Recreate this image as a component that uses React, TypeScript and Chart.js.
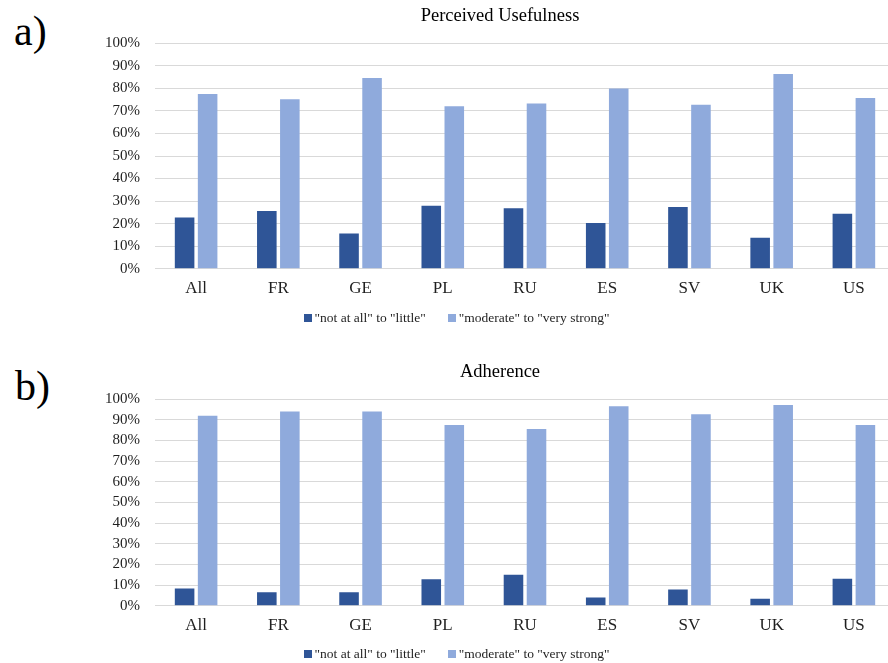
import React, { useEffect, useRef } from 'react';
import { Chart, registerables } from 'chart.js';

Chart.register(...registerables);

// ---- data ----
const categories = ['All', 'FR', 'GE', 'PL', 'RU', 'ES', 'SV', 'UK', 'US'];
const seriesLabels = ['"not at all" to "little"', '"moderate" to "very strong"'];
const usefulnessLow = [22.7, 25.6, 15.6, 28.0, 26.8, 20.3, 27.4, 13.8, 24.4];
const usefulnessHigh = [77.5, 75.1, 84.6, 72.1, 73.3, 79.9, 72.7, 86.4, 75.7];
const adherenceLow = [8.4, 6.5, 6.5, 12.9, 15.0, 4.0, 7.9, 3.4, 13.1];
const adherenceHigh = [92.0, 94.0, 94.0, 87.5, 85.6, 96.6, 92.7, 97.2, 87.5];
const chartTitles = ['Perceived Usefulness', 'Adherence'];
const panelLetters = ['a)', 'b)'];
const yMin = 0;
const yMax = 100;
const yStep = 10;

// ---- style ----
const FONT = '"Liberation Serif", "Times New Roman", serif';
const DARK = '#2F5597';
const LIGHT = '#8FAADC';
const GRID = '#D9D9D9';
const TEXT = '#1f1f1f';
const CANVAS_LEFT = 105;
const CANVAS_W = 794;
const Y_AXIS_W = 50;

function makeLegendPlugin(centerX: number, offsetY: number) {
  return {
    id: 'customLegend',
    afterDraw(chart: any) {
      const { ctx, chartArea } = chart;
      ctx.save();
      ctx.font = `13.5px ${FONT}`;
      ctx.textBaseline = 'middle';
      ctx.textAlign = 'left';
      const items = chart.data.datasets.map((ds: any) => ({
        text: ds.label as string,
        color: ds.backgroundColor as string,
        w: ctx.measureText(ds.label).width,
      }));
      const box = 8;
      const gapText = 3;
      const gapItem = 22;
      const total =
        items.reduce((s: number, it: any) => s + box + gapText + it.w, 0) +
        gapItem * (items.length - 1);
      let x = centerX - total / 2;
      const y = chartArea.bottom + offsetY;
      items.forEach((it: any) => {
        ctx.fillStyle = it.color;
        ctx.fillRect(Math.round(x), Math.round(y - box / 2), box, box);
        x += box + gapText;
        ctx.fillStyle = TEXT;
        ctx.fillText(it.text, x, y + 0.5);
        x += it.w + gapItem;
      });
      ctx.restore();
    },
  };
}

type PanelProps = {
  top: number;
  height: number;
  title: string;
  low: number[];
  high: number[];
  padBottom: number;
  legendOffset: number;
};

function BarPanel({ top, height, title, low, high, padBottom, legendOffset }: PanelProps) {
  const ref = useRef<HTMLCanvasElement | null>(null);
  useEffect(() => {
    if (!ref.current) return;
    const chart = new Chart(ref.current, {
      type: 'bar',
      data: {
        labels: categories,
        datasets: [
          {
            label: seriesLabels[0],
            data: low,
            backgroundColor: DARK,
            categoryPercentage: 0.56,
            barPercentage: 0.85,
          },
          {
            label: seriesLabels[1],
            data: high,
            backgroundColor: LIGHT,
            categoryPercentage: 0.56,
            barPercentage: 0.85,
          },
        ],
      },
      options: {
        responsive: false,
        maintainAspectRatio: false,
        animation: false,
        layout: { padding: { left: 0, right: 4, top: 0, bottom: padBottom } },
        plugins: {
          legend: { display: false },
          tooltip: { enabled: false },
          title: {
            display: true,
            text: title,
            color: '#000',
            font: { family: FONT, size: 18.5, weight: 'normal' },
            padding: { top: 5, bottom: 16 },
          },
        },
        scales: {
          x: {
            grid: { display: false, drawTicks: false },
            border: { display: false },
            ticks: {
              color: TEXT,
              font: { family: FONT, size: 17 },
              padding: 10,
              maxRotation: 0,
              autoSkip: false,
            },
          },
          y: {
            min: yMin,
            max: yMax,
            grid: { color: GRID, lineWidth: 1, drawTicks: false },
            border: { display: false },
            afterFit: (scale: any) => {
              scale.width = Y_AXIS_W;
            },
            ticks: {
              stepSize: yStep,
              autoSkip: false,
              padding: 15,
              color: TEXT,
              font: { family: FONT, size: 15 },
              callback: (v: any) => `${v}%`,
            },
          },
        },
      } as any,
      plugins: [makeLegendPlugin(351.5, legendOffset)],
    });
    return () => chart.destroy();
  }, []);
  return (
    <canvas
      ref={ref}
      width={CANVAS_W}
      height={height}
      style={{ position: 'absolute', left: CANVAS_LEFT, top, width: CANVAS_W, height }}
    />
  );
}

const letterStyle: React.CSSProperties = {
  position: 'absolute',
  fontFamily: FONT,
  fontSize: 42,
  lineHeight: '42px',
  color: '#000',
  margin: 0,
};

export default function App() {
  return (
    <div
      style={{
        position: 'absolute',
        left: 0,
        top: 0,
        width: 888,
        height: 663,
        overflow: 'hidden',
        background: '#fff',
      }}
    >
      <div style={{ ...letterStyle, left: 14, top: 10 }}>{panelLetters[0]}</div>
      <div style={{ ...letterStyle, left: 15, top: 365 }}>{panelLetters[1]}</div>
      <BarPanel
        top={0}
        height={330}
        title={chartTitles[0]}
        low={usefulnessLow}
        high={usefulnessHigh}
        padBottom={20.8}
        legendOffset={49}
      />
      <BarPanel
        top={356}
        height={307}
        title={chartTitles[1]}
        low={adherenceLow}
        high={adherenceHigh}
        padBottom={16.8}
        legendOffset={48}
      />
    </div>
  );
}
